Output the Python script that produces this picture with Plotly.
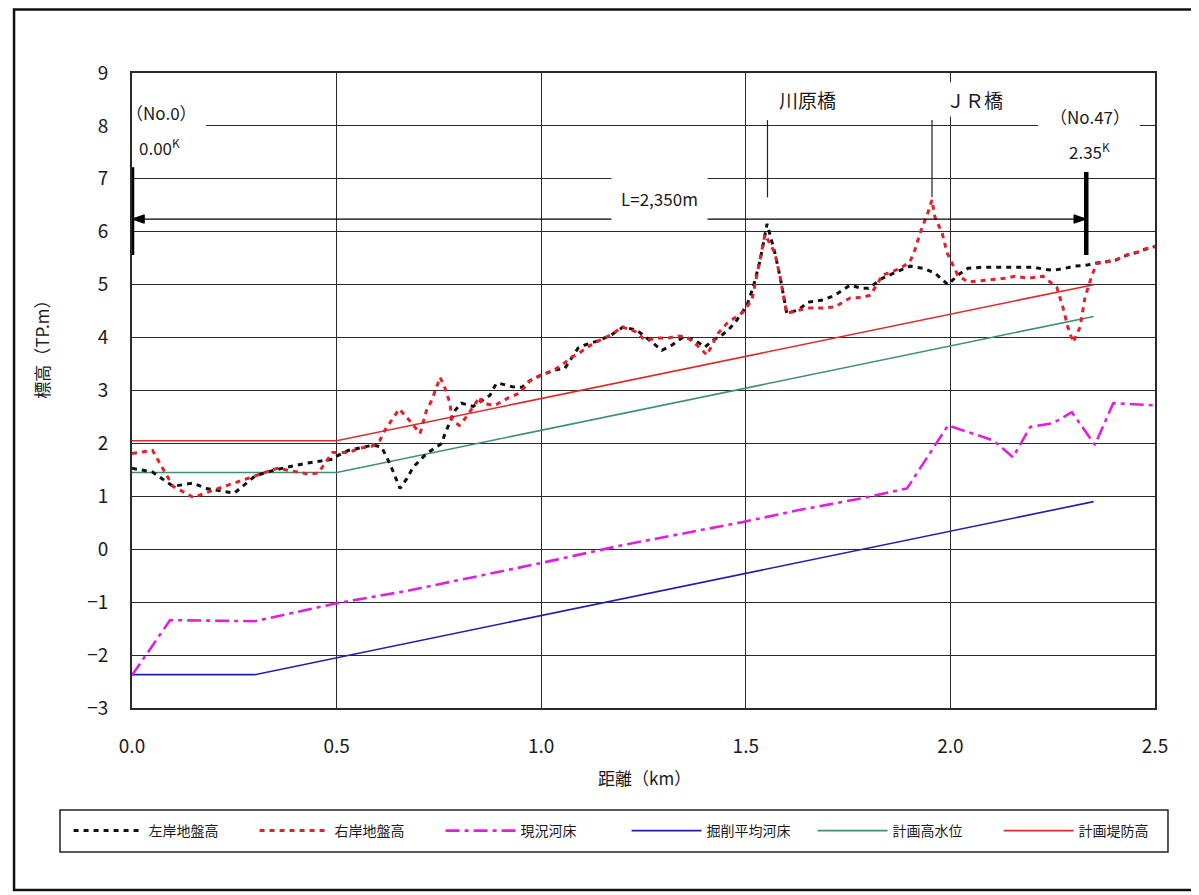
import plotly.graph_objects as go

# ---------------- data ----------------
left_x = [0, 0.05, 0.1, 0.15, 0.18, 0.25, 0.3, 0.33, 0.39, 0.43, 0.49, 0.5, 0.53, 0.59, 0.61, 0.63,
          0.655, 0.672, 0.687, 0.72, 0.757, 0.765, 0.79, 0.805, 0.834, 0.875, 0.89, 0.9, 0.93, 0.953,
          0.973, 1.0, 1.03, 1.058, 1.09, 1.107, 1.143, 1.173, 1.2, 1.234, 1.295, 1.32, 1.347, 1.376,
          1.4, 1.42, 1.442, 1.457, 1.478, 1.503, 1.518, 1.535, 1.552, 1.571, 1.584, 1.6, 1.628, 1.652,
          1.689, 1.718, 1.755, 1.784, 1.8, 1.833, 1.877, 1.901, 1.933, 1.962, 1.994, 2.018, 2.043,
          2.077, 2.11, 2.138, 2.165, 2.202, 2.231, 2.251, 2.28, 2.304, 2.334, 2.349, 2.378, 2.402,
          2.432, 2.456, 2.483, 2.5]
left_y = [1.53, 1.46, 1.19, 1.25, 1.15, 1.06, 1.38, 1.46, 1.57, 1.63, 1.70, 1.76, 1.87, 1.97, 1.93, 1.62,
          1.15, 1.34, 1.55, 1.81, 2.0, 2.19, 2.63, 2.76, 2.70, 2.91, 3.13, 3.13, 3.07, 3.06,
          3.19, 3.29, 3.38, 3.42, 3.8, 3.86, 3.95, 4.06, 4.2, 4.14, 3.76, 3.86, 4.01, 3.95,
          3.82, 3.95, 4.05, 4.14, 4.33, 4.61, 4.95, 5.46, 6.15, 5.6, 5.14, 4.46, 4.52, 4.67,
          4.71, 4.80, 4.99, 4.93, 4.93, 5.12, 5.27, 5.35, 5.31, 5.22, 5.0, 5.18, 5.31,
          5.33, 5.33, 5.33, 5.33, 5.33, 5.29, 5.27, 5.31, 5.35, 5.37, 5.4, 5.43, 5.46,
          5.56, 5.61, 5.69, 5.72]

right_x = [0, 0.05, 0.1, 0.15, 0.2, 0.25, 0.3, 0.355, 0.405, 0.43, 0.455, 0.49, 0.53, 0.557, 0.587,
           0.606, 0.618, 0.638, 0.653, 0.674, 0.704, 0.72, 0.733, 0.743, 0.753, 0.765, 0.777, 0.782,
           0.80, 0.818, 0.85, 0.855, 0.887, 0.924, 0.948, 0.973, 1.0, 1.03, 1.05, 1.075, 1.095, 1.127,
           1.143, 1.173, 1.197, 1.229, 1.254, 1.285, 1.31, 1.334, 1.356, 1.38, 1.405, 1.417, 1.432,
           1.454, 1.474, 1.493, 1.515, 1.535, 1.547, 1.571, 1.584, 1.6, 1.628, 1.652, 1.689, 1.718,
           1.755, 1.784, 1.804, 1.823, 1.833, 1.857, 1.882, 1.901, 1.913, 1.93, 1.943, 1.955, 1.962,
           1.98, 1.992, 2.018, 2.043, 2.077, 2.104, 2.133, 2.158, 2.19, 2.226, 2.26, 2.275, 2.287,
           2.30, 2.317, 2.329, 2.346, 2.358, 2.383, 2.402, 2.432, 2.456, 2.483, 2.5]
right_y = [1.81, 1.87, 1.19, 0.98, 1.12, 1.25, 1.38, 1.53, 1.46, 1.42, 1.44, 1.83, 1.83, 1.91, 1.95,
           2.06, 2.25, 2.47, 2.65, 2.47, 2.19, 2.63, 2.82, 3.04, 3.25, 3.04, 2.76, 2.44,
           2.34, 2.51, 2.88, 2.76, 2.72, 2.88, 2.95, 3.19, 3.29, 3.38, 3.48, 3.63, 3.72, 3.89,
           3.95, 4.06, 4.2, 4.12, 3.95, 3.99, 3.99, 4.03, 4.01, 3.86, 3.67, 3.86, 4.08,
           4.27, 4.37, 4.48, 4.71, 5.46, 5.95, 5.6, 5.14, 4.46, 4.52, 4.56, 4.56, 4.58,
           4.75, 4.76, 4.80, 5.03, 5.18, 5.24, 5.33, 5.43, 5.65, 6.07, 6.31, 6.6, 6.28,
           5.97, 5.6, 5.18, 5.05, 5.08, 5.1, 5.12, 5.16, 5.12, 5.16, 4.95, 4.57, 4.2,
           3.91, 4.2, 4.76, 5.18, 5.4, 5.43, 5.46, 5.56, 5.61, 5.69, 5.72]

bed_x = [0, 0.03, 0.093, 0.3, 0.5, 0.67, 1.0, 1.2, 1.49, 1.63, 1.795, 1.894, 1.994, 2.104, 2.153,
         2.195, 2.25, 2.297, 2.353, 2.398, 2.5]
bed_y = [-2.38, -2.04, -1.34, -1.36, -1.02, -0.79, -0.26, 0.08, 0.51, 0.74, 0.98, 1.15, 2.34, 2.06, 1.74,
         2.31, 2.38, 2.59, 1.97, 2.76, 2.72]

plan_x = [0, 0.3, 2.35]
exc_y = [-2.37, -2.37, 0.90]
hwl_x = [0, 0.5, 2.35]
hwl_y = [1.45, 1.45, 4.40]
levee_y = [2.05, 2.05, 5.00]

names = ["左岸地盤高", "右岸地盤高", "現況河床", "掘削平均河床", "計画高水位", "計画堤防高"]

x_ticks = [0, 0.5, 1.0, 1.5, 2.0, 2.5]
y_ticks = list(range(-3, 10))

# section markers (km) and label height
sta_start, sta_end = 0.0, 2.332
bridges = [1.553, 1.955]
dim_y = 6.24

FONT = "Noto Sans CJK JP, Noto Sans, sans-serif"

fig = go.Figure()
fig.add_trace(go.Scatter(x=plan_x, y=exc_y, name=names[3], mode="lines",
                         line=dict(color="#1f1fb0", width=1.6), legendrank=4))
fig.add_trace(go.Scatter(x=hwl_x, y=hwl_y, name=names[4], mode="lines",
                         line=dict(color="#3f8f72", width=1.6), legendrank=5))
fig.add_trace(go.Scatter(x=hwl_x, y=levee_y, name=names[5], mode="lines",
                         line=dict(color="#e02a2a", width=1.6), legendrank=6))
fig.add_trace(go.Scatter(x=bed_x, y=bed_y, name=names[2], mode="lines",
                         line=dict(color="#e020dc", width=2.6, dash="14px,5px,4px,5px"), legendrank=3))
fig.add_trace(go.Scatter(x=left_x, y=left_y, name=names[0], mode="lines",
                         line=dict(color="#111111", width=3, dash="5px,5px"), legendrank=1))
fig.add_trace(go.Scatter(x=right_x, y=right_y, name=names[1], mode="lines",
                         line=dict(color="#e3202b", width=3, dash="5px,5px"), legendrank=2))

grid = "#2a2a2a"
fig.update_xaxes(range=[0, 2.5], tickvals=x_ticks, tickformat=".1f", showgrid=True, gridcolor=grid,
                 gridwidth=1.4, showline=True, mirror=True, linecolor=grid, linewidth=1.6,
                 zeroline=False, ticks="", ticklabelstandoff=20,
                 tickfont=dict(family=FONT, size=19, color="#1a1a1a"))
fig.update_yaxes(range=[-3, 9], tickvals=y_ticks, showgrid=True, gridcolor=grid, gridwidth=1.4,
                 showline=True, mirror=True, linecolor=grid, linewidth=1.6, zeroline=False,
                 ticks="", ticklabelstandoff=18,
                 tickfont=dict(family=FONT, size=19, color="#1a1a1a"))

# arrow head size in data units
ah_dx, ah_dy = 0.03, 0.08

shapes = [
    # outer frame
    dict(type="rect", xref="paper", yref="paper", x0=-0.1153, x1=1.06, y0=-0.2866, y1=1.1,
         line=dict(color="#111", width=2.5), layer="below"),
    # legend frame
    dict(type="rect", xref="paper", yref="paper", x0=-0.0704, x1=1.0127, y0=-0.2268, y1=-0.1606,
         line=dict(color="#222", width=1.5)),
    # white masks behind station labels
    dict(type="rect", xref="x", yref="y", x0=-0.015, x1=0.181, y0=7.26, y1=8.66,
         fillcolor="white", line=dict(width=0), layer="above"),
    dict(type="rect", xref="x", yref="y", x0=2.214, x1=2.463, y0=7.26, y1=8.49,
         fillcolor="white", line=dict(width=0), layer="above"),
    # dimension line with arrow heads
    dict(type="line", xref="x", yref="y", x0=sta_start, x1=sta_end, y0=dim_y, y1=dim_y,
         line=dict(color="black", width=1.3), layer="above"),
    dict(type="path", xref="x", yref="y",
         path=f"M {sta_start},{dim_y} L {sta_start + ah_dx},{dim_y + ah_dy} L {sta_start + ah_dx},{dim_y - ah_dy} Z",
         fillcolor="black", line=dict(color="black", width=1), layer="above"),
    dict(type="path", xref="x", yref="y",
         path=f"M {sta_end},{dim_y} L {sta_end - ah_dx},{dim_y + ah_dy} L {sta_end - ah_dx},{dim_y - ah_dy} Z",
         fillcolor="black", line=dict(color="black", width=1), layer="above"),
    # bridge leader lines
    dict(type="line", xref="x", yref="y", x0=bridges[0], x1=bridges[0], y0=6.65, y1=8.11,
         line=dict(color="#222", width=1.2), layer="above"),
    dict(type="line", xref="x", yref="y", x0=bridges[1], x1=bridges[1], y0=6.65, y1=8.11,
         line=dict(color="#222", width=1.2), layer="above"),
    # bold station bars
    dict(type="line", xref="x", yref="y", x0=sta_start, x1=sta_start, y0=5.56, y1=7.22,
         line=dict(color="black", width=4.5), layer="above"),
    dict(type="line", xref="x", yref="y", x0=sta_end, x1=sta_end, y0=5.56, y1=7.13,
         line=dict(color="black", width=4.5), layer="above"),
]

ann_font = dict(family=FONT, size=17, color="#1a1a1a")
annotations = [
    dict(x=1.29, y=6.62, xref="x", yref="y", text="L=2,350m", showarrow=False, font=ann_font,
         bgcolor="white", borderpad=9),
    dict(x=0.071, y=8.26, xref="x", yref="y", text="（No.0）", showarrow=False, font=ann_font),
    dict(x=0.068, y=7.6, xref="x", yref="y", text="0.00<sup>K</sup>", showarrow=False, font=ann_font),
    dict(x=2.341, y=8.17, xref="x", yref="y", text="（No.47）", showarrow=False, font=ann_font),
    dict(x=2.341, y=7.52, xref="x", yref="y", text="2.35<sup>K</sup>", showarrow=False, font=ann_font),
    dict(x=1.65, y=8.49, xref="x", yref="y", text="川原橋", showarrow=False,
         font=dict(family=FONT, size=19, color="#1a1a1a")),
    dict(x=2.06, y=8.49, xref="x", yref="y", text="ＪＲ橋", showarrow=False, bgcolor="white",
         borderpad=3, font=dict(family=FONT, size=19, color="#1a1a1a")),
    dict(x=-0.088, y=0.572, xref="paper", yref="paper", text="標高（TP.m）", textangle=-90,
         xanchor="center", yanchor="middle",
         showarrow=False, font=dict(family=FONT, size=17, color="#1a1a1a")),
    dict(x=0.501, y=-0.11, xref="paper", yref="paper", text="距離（km）", showarrow=False,
         xanchor="center", yanchor="middle",
         font=dict(family=FONT, size=17, color="#1a1a1a")),
]

fig.update_layout(
    width=1191, height=887,
    margin=dict(l=124, r=44, t=65, b=187),
    plot_bgcolor="white", paper_bgcolor="white",
    font=dict(family=FONT, color="#1a1a1a"),
    shapes=shapes, annotations=annotations,
    showlegend=True,
    legend=dict(orientation="h", x=-0.062, y=-0.1937, xanchor="left", yanchor="middle",
                font=dict(family=FONT, size=14, color="#1a1a1a"), borderwidth=0,
                itemwidth=70, entrywidth=101, entrywidthmode="pixels",
                bgcolor="rgba(0,0,0,0)"),
)

fig.write_html("out.html")
